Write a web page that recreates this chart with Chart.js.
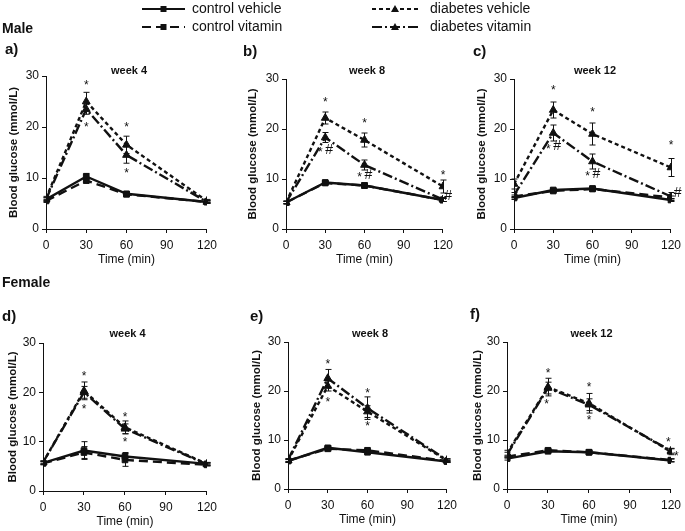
<!DOCTYPE html>
<html>
<head>
<meta charset="utf-8">
<script src="https://cdn.jsdelivr.net/npm/chart.js@4.4.1/dist/chart.umd.min.js"></script>
<style>
  body { margin: 0; background: #fff; }
  #page { position: relative; width: 685px; height: 531px; overflow: hidden; background: #fff;
          font-family: "Liberation Sans", Arial, sans-serif; color: #111; }
  #page canvas { position: absolute; }
  .txt { position: absolute; line-height: 1; white-space: nowrap; transform: translateY(-50%); }
</style>
</head>
<body>
<div id="page"></div>
<script>
// ---- data ----
const times = [0, 30, 60, 120];
const seriesNames = ['control vehicle', 'control vitamin', 'diabetes vehicle', 'diabetes vitamin'];
const panelLabels = ['a)', 'b)', 'c)', 'd)', 'e)', 'f)'];
const panelTitles = ['week 4', 'week 8', 'week 12', 'week 4', 'week 8', 'week 12'];

// one row per panel a..f, values at 0, 30, 60, 120 min
const controlVehicle = [
  [5.8, 10.3, 6.9, 5.3], [5.3, 9.3, 8.7, 5.8], [6.2, 7.8, 8.1, 5.8],
  [5.7, 8.2, 7.0, 5.5], [5.7, 8.4, 7.5, 5.6], [6.2, 7.7, 7.5, 5.8]
];
const controlVitamin = [
  [5.5, 9.5, 6.8, 5.3], [5.3, 9.2, 8.7, 5.8], [6.5, 7.6, 8.0, 6.3],
  [5.6, 7.8, 6.3, 5.3], [5.8, 8.2, 7.9, 5.7], [6.6, 7.9, 7.5, 5.9]
];
const diabetesVehicle = [
  [6.0, 25.0, 16.5, 5.5], [5.3, 22.2, 17.8, 8.5], [9.0, 23.8, 19.0, 12.3],
  [5.8, 20.3, 12.9, 5.5], [5.8, 21.0, 15.8, 5.8], [7.3, 20.8, 17.5, 7.6]
];
const diabetesVitamin = [
  [5.8, 23.5, 14.5, 5.3], [5.3, 18.3, 12.8, 5.9], [6.8, 19.2, 13.5, 6.5],
  [5.8, 20.0, 12.6, 5.4], [5.9, 22.6, 16.5, 5.9], [7.0, 20.6, 17.2, 7.8]
];

// error bars (SEM)
const controlVehicleErr = [
  [0.3, 0.6, 0.4, 0.2], [0.2, 0.3, 0.3, 0.3], [0.3, 0.3, 0.3, 0.3],
  [0.3, 1.8, 0.8, 0.2], [0.3, 0.4, 0.4, 0.2], [0.3, 0.3, 0.3, 0.3]
];
const controlVitaminErr = [
  [0.3, 0.5, 0.4, 0.2], [0.2, 0.3, 0.3, 0.3], [0.3, 0.3, 0.3, 0.3],
  [0.3, 1.2, 1.3, 0.2], [0.3, 0.4, 0.4, 0.2], [0.3, 0.3, 0.3, 0.3]
];
const diabetesVehicleErr = [
  [0.4, 1.8, 1.7, 0.3], [0.3, 1.2, 1.4, 1.3], [1.0, 1.6, 2.2, 1.8],
  [0.3, 1.8, 1.3, 0.3], [0.3, 1.0, 1.2, 0.3], [0.6, 1.8, 2.0, 0.6]
];
const diabetesVitaminErr = [
  [0.4, 1.0, 1.6, 0.3], [0.3, 1.0, 1.0, 0.4], [0.5, 1.6, 1.5, 0.8],
  [0.3, 1.2, 1.0, 0.3], [0.3, 1.8, 2.3, 0.3], [0.5, 1.2, 1.2, 0.5]
];

// significance marks: [time, glucose, text]
const panelMarks = [
  [[30, 28.7, '*'], [30, 20.4, '*'], [60, 20.5, '*'], [60, 11.5, '*']],
  [[30, 25.8, '*'], [30, 15.8, '*#'], [60, 21.7, '*'], [60, 10.8, '*#'], [120, 11.3, '*'], [124, 6.6, '#']],
  [[30, 28.2, '*'], [30, 16.5, '*#'], [60, 23.8, '*'], [60, 11.0, '*#'], [120, 17.2, '*'], [125, 7.1, '#']],
  [[30, 23.7, '*'], [30, 17.0, '*'], [60, 15.5, '*'], [60, 10.3, '*']],
  [[30, 25.9, '*'], [30, 18.3, '*'], [60, 20.0, '*'], [60, 13.4, '*']],
  [[30, 24.2, '*'], [29, 17.8, '*'], [60, 21.2, '*'], [60, 14.5, '*'], [118, 10.1, '*'], [124, 7.3, '*']]
];

// ---- styling / layout ----
const FONT = '"Liberation Sans", Arial, sans-serif';
const INK = '#111';
const seriesValues = [controlVehicle, controlVitamin, diabetesVehicle, diabetesVitamin];
const seriesErrors = [controlVehicleErr, controlVitaminErr, diabetesVehicleErr, diabetesVitaminErr];
const seriesDash = [[], [9, 5], [4, 3], [10, 3, 2, 3]];
const seriesPoint = ['rect', 'rect', 'triangle', 'triangle'];
const seriesRadius = [4, 4, 4.5, 4.5];

// chart areas in page pixels: left, right, top, bottom, y-axis strip width
const areas = [
  { l: 46, r: 208, t: 76, b: 229, yw: 44 },
  { l: 286, r: 444, t: 79, b: 229, yw: 45 },
  { l: 514, r: 672, t: 79, b: 229, yw: 44 },
  { l: 43, r: 208, t: 343, b: 491, yw: 42 },
  { l: 288, r: 448, t: 342, b: 489, yw: 43 },
  { l: 507, r: 672, t: 342, b: 489, yw: 41 }
];
const labelPos = [[5, 48], [243, 50], [473, 50], [2, 315], [250, 315], [470, 313]];
const titleY = [70, 70, 70, 333, 333, 333];
const PAD_TOP = 14, PAD_RIGHT = 14, X_H = 39;

const page = document.getElementById('page');

function addText(text, x, y, size, bold, center) {
  const d = document.createElement('div');
  d.className = 'txt';
  d.textContent = text;
  d.style.left = x + 'px';
  d.style.top = y + 'px';
  d.style.fontSize = size + 'px';
  d.style.fontWeight = bold ? 'bold' : 'normal';
  if (center) d.style.transform = 'translate(-50%,-50%)';
  page.appendChild(d);
}

// error bars + significance marks
const extras = {
  id: 'extras',
  afterDatasetsDraw(chart, args, opts) {
    const ctx = chart.ctx, xs = chart.scales.x, ys = chart.scales.y;
    ctx.save();
    ctx.strokeStyle = INK;
    ctx.lineWidth = 1;
    ctx.setLineDash([]);
    chart.data.datasets.forEach(ds => {
      ds.data.forEach((p, i) => {
        const e = ds.errors[i];
        const x = Math.round(xs.getPixelForValue(p.x)) + 0.5;
        const y1 = ys.getPixelForValue(p.y + e), y2 = ys.getPixelForValue(p.y - e);
        ctx.beginPath();
        ctx.moveTo(x, y1); ctx.lineTo(x, y2);
        ctx.moveTo(x - 3, y1); ctx.lineTo(x + 3, y1);
        ctx.moveTo(x - 3, y2); ctx.lineTo(x + 3, y2);
        ctx.stroke();
      });
    });
    ctx.fillStyle = INK;
    ctx.textAlign = 'center';
    ctx.textBaseline = 'middle';
    opts.marks.forEach(([t, v, s]) => {
      const x = xs.getPixelForValue(t), y = ys.getPixelForValue(v);
      if (s === '*#') {
        ctx.font = '12px ' + FONT;
        ctx.fillText('*', x - 5, y + 3);
        ctx.font = '14px ' + FONT;
        ctx.fillText('#', x + 4, y);
      } else if (s === '*') {
        ctx.font = '12px ' + FONT;
        ctx.fillText('*', x, y + 3);
      } else {
        ctx.font = '14px ' + FONT;
        ctx.fillText(s, x, y);
      }
    });
    ctx.restore();
  }
};

function axisStyle(afterFit, title, bold, titlePad, tickPad) {
  return {
    type: 'linear',
    ticks: { color: INK, font: { size: 12, family: FONT }, padding: tickPad },
    grid: { drawOnChartArea: false, drawTicks: true, tickLength: 4, color: INK, lineWidth: 1 },
    border: { display: true, color: INK, width: 1 },
    title: { display: true, text: title, color: INK, padding: titlePad,
             font: { size: bold ? 11.5 : 12, family: FONT, weight: bold ? 'bold' : 'normal' } },
    afterFit
  };
}

areas.forEach((a, k) => {
  const c = document.createElement('canvas');
  const w = a.yw + (a.r - a.l) + PAD_RIGHT;
  const h = PAD_TOP + (a.b - a.t) + X_H;
  c.width = w; c.height = h;
  c.style.left = (a.l - a.yw) + 'px';
  c.style.top = (a.t - PAD_TOP) + 'px';
  c.style.width = w + 'px'; c.style.height = h + 'px';
  page.appendChild(c);

  const datasets = seriesNames.map((name, s) => ({
    label: name,
    data: times.map((t, i) => ({ x: t, y: seriesValues[s][k][i] })),
    errors: seriesErrors[s][k],
    borderColor: INK,
    backgroundColor: INK,
    borderWidth: 2.4,
    borderDash: seriesDash[s],
    pointStyle: seriesPoint[s],
    pointRadius: seriesRadius[s],
    pointBorderWidth: 1,
    tension: 0
  }));

  const xAxis = axisStyle(s => { s.height = X_H; }, 'Time (min)', false, { top: 0, bottom: 1 }, 5);
  xAxis.min = 0; xAxis.max = 120; xAxis.ticks.stepSize = 30;
  const yAxis = axisStyle(s => { s.width = a.yw; }, 'Blood glucose (mmol/L)', true, { top: 5, bottom: 0 }, 3);
  yAxis.min = 0; yAxis.max = 30; yAxis.ticks.stepSize = 10;

  new Chart(c, {
    type: 'line',
    data: { datasets },
    options: {
      responsive: false,
      animation: false,
      devicePixelRatio: 1,
      layout: { padding: { top: PAD_TOP, right: PAD_RIGHT, left: 0, bottom: 0 } },
      scales: { x: xAxis, y: yAxis },
      plugins: { legend: { display: false }, tooltip: { enabled: false }, extras: { marks: panelMarks[k] } }
    },
    plugins: [extras]
  });

  addText(panelTitles[k], (a.l + a.r) / 2 + 2, titleY[k], 11, true, true);
  addText(panelLabels[k], labelPos[k][0], labelPos[k][1], 15, true, false);
});

addText('Male', 2, 28, 14, true, false);
addText('Female', 2, 282, 14, true, false);

// legend, drawn with the same line styles
const lg = document.createElement('canvas');
lg.width = 685; lg.height = 40;
lg.style.left = '0px'; lg.style.top = '0px';
page.insertBefore(lg, page.firstChild);
const g = lg.getContext('2d');
const legendPos = [[142, 9], [142, 27], [372, 9], [372, 27]];
seriesNames.forEach((name, s) => {
  const [x0, y] = legendPos[s];
  const len = s < 2 ? 43 : 46;
  g.strokeStyle = INK; g.fillStyle = INK; g.lineWidth = 2;
  g.setLineDash(seriesDash[s]);
  g.beginPath(); g.moveTo(x0, y); g.lineTo(x0 + len, y); g.stroke();
  g.setLineDash([]);
  const cx = x0 + len / 2;
  g.beginPath();
  if (seriesPoint[s] === 'rect') g.rect(cx - 3, y - 3, 6, 6);
  else { g.moveTo(cx, y - 4); g.lineTo(cx + 4, y + 3); g.lineTo(cx - 4, y + 3); g.closePath(); }
  g.fill();
  g.font = '14px ' + FONT;
  g.textBaseline = 'middle';
  g.fillText(name, x0 + len + (s < 2 ? 7 : 12), y);
});
</script>
</body>
</html>
